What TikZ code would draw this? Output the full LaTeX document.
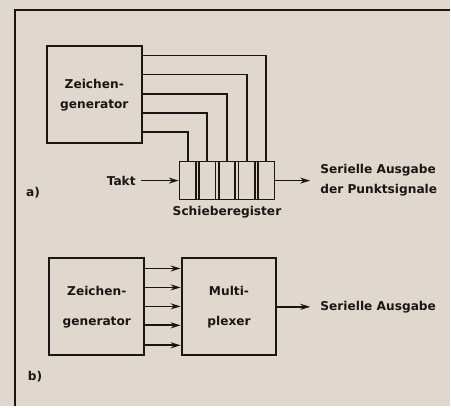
\documentclass[tikz,border=0pt]{standalone}
\usepackage{fontspec}
\setmainfont{DejaVu Sans}
\usetikzlibrary{arrows.meta, positioning}
\definecolor{paper}{RGB}{224,216,207}
\definecolor{ink}{RGB}{25,22,20}

\begin{document}
\begin{tikzpicture}[
    x=1pt, y=-1pt,
    node distance=6pt,
    box/.style={rectangle, draw=ink, line width=1.9pt, minimum width=95pt, minimum height=97pt, align=center, text=ink, font=\fontsize{12.2}{20}\bfseries},
    cell/.style={rectangle, draw=ink, line width=1.7pt, minimum width=16.2pt, minimum height=38pt, inner sep=0pt},
    txt/.style={inner sep=0pt, align=left, text=ink, font=\fontsize{12.2}{20}\bfseries},
    wire/.style={draw=ink, line width=1.7pt},
    arrow/.style={-{Stealth[length=10pt,width=6pt]}, draw=ink, line width=1.7pt}
]
    % Paper and frame
    \fill[paper] (0,0) rectangle (451,407);
    \draw[ink, line width=2pt] (15,407) -- (15,10) -- (451,10);

    % a) Zeichengenerator
    \node[box] (gen1) at (94.5,95) {Zeichen-\\generator};

    % a) Schieberegister
    \node[cell, minimum width=95pt] (reg) at (227.5,181) {};
    \foreach \i in {1,...,5}
        \node[cell] (c\i) at ({188.1+19.7*(\i-1)},181) {};
    \node[txt, below=6pt of reg] (schieb) {Schieberegister};

    % Leitungen zum Register
    \foreach \i [evaluate=\i as \off using 10+19.25*(5-\i)] in {1,...,5}
        \draw[wire] ([yshift=-\off pt]gen1.north east) -| (c\i.north);

    % Takt und Ausgang
    \node[txt, left=43pt of reg] (takt) {Takt};
    \draw[arrow] ([xshift=5pt]takt.east) -- (reg.west);
    \coordinate[right=35pt of reg] (outA);
    \draw[arrow] (reg) -- (outA);
    \node[txt, right=10pt of outA] (ausgA) {Serielle Ausgabe\\der Punktsignale};
    \node[txt] (la) at (33,193) {a)};

    % b) Zeichengenerator und Multiplexer
    \node[box, font=\fontsize{12.2}{30}\bfseries] (gen2) at (97,307.5) {Zeichen-\\generator};
    \node[box, font=\fontsize{12.2}{30}\bfseries] (mux) at (229.5,307.5) {Multi-\\plexer};
    \foreach \off in {11,30,49,68,88}
        \draw[arrow] ([yshift=-\off pt]gen2.north east) -- ([yshift=-\off pt]mux.north west);

    % Ausgang
    \coordinate[right=33pt of mux] (outB);
    \draw[arrow] (mux) -- (outB);
    \node[txt, right=10pt of outB] (ausgB) {Serielle Ausgabe};
    \node[txt] (lb) at (35,378) {b)};
\end{tikzpicture}
\end{document}
